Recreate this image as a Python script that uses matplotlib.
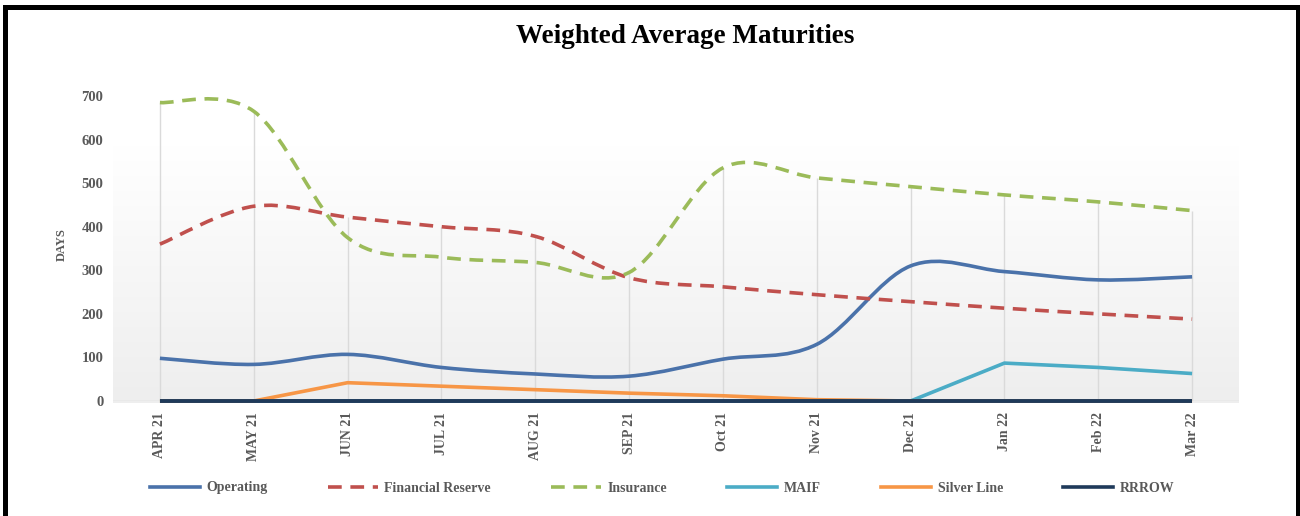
import numpy as np
import matplotlib

matplotlib.use("Agg")
import matplotlib.pyplot as plt
from matplotlib.path import Path
from matplotlib.patches import PathPatch
from matplotlib.lines import Line2D
from matplotlib.colors import LinearSegmentedColormap

months = ["APR 21", "MAY 21", "JUN 21", "JUL 21", "AUG 21", "SEP 21",
          "Oct 21", "Nov 21", "Dec 21", "Jan 22", "Feb 22", "Mar 22"]
operating = [98, 84, 107, 77, 62, 57, 96, 130, 310, 297, 278, 285]
financial_reserve = [360, 447, 422, 400, 378, 283, 262, 244, 228, 213, 200, 188]
insurance = [685, 665, 375, 330, 318, 295, 535, 512, 492, 473, 457, 437]
maif = [0, 0, 0, 0, 0, 0, 0, 0, 0, 87, 77, 63]
silver_line = [0, 0, 42, 34, 26, 18, 12, 3, 0, 0, 0, 0]
rrrow = [0, 0, 0, 0, 0, 0, 0, 0, 0, 0, 0, 0]

TXT = "#595959"
SERIF = ["Liberation Serif", "DejaVu Serif"]
W, H = 1300, 516


def smooth_path(x, y):
    # Excel-like smoothed line: cubic Bezier segments with 1/6 tangents
    pts = np.column_stack([np.asarray(x, float), np.asarray(y, float)])
    n = len(pts)
    verts = [pts[0]]
    codes = [Path.MOVETO]
    for i in range(n - 1):
        p_prev = pts[max(i - 1, 0)]
        p_next2 = pts[min(i + 2, n - 1)]
        c1 = pts[i] + (pts[i + 1] - p_prev) / 6
        c2 = pts[i + 1] - (p_next2 - pts[i]) / 6
        verts += [c1, c2, pts[i + 1]]
        codes += [Path.CURVE4] * 3
    return Path(verts, codes)


fig = plt.figure(figsize=(W / 100, H / 100), dpi=100)
px = 0.4357  # pixels per day
ax = fig.add_axes([113 / W, (H - 401) / H, (1239 - 113) / W, 750 * px / H])
x = np.arange(len(months))
ax.set_xlim(-0.5, len(months) - 0.5)
ax.set_ylim(0, 750)

# soft gradient background
grad = np.linspace(0, 1, 256).reshape(-1, 1)
cmap = LinearSegmentedColormap.from_list("bg", ["#eeeeee", "#ffffff"])
ax.imshow(grad, cmap=cmap, origin="lower", aspect="auto",
          extent=(-0.5, len(months) - 0.5, -4, 587), zorder=0, clip_on=False)

# drop lines up to the highest series
tops = np.max([operating, financial_reserve, insurance, maif, silver_line], axis=0)
ax.vlines(x, 0, tops, color="#dadada", lw=1, zorder=1)
ax.axhline(0, color="#d9d9d9", lw=1, zorder=1)

c_op, c_fr, c_ins = "#4a72aa", "#c0504d", "#9bbb59"
c_maif, c_sil, c_rr = "#4bacc6", "#f79646", "#1f3a5a"
dash = (0, (3.8, 2.4))
lw = 2.6

for vals, col, ls in [(operating, c_op, "-"),
                      (financial_reserve, c_fr, dash),
                      (insurance, c_ins, dash)]:
    ax.add_patch(PathPatch(smooth_path(x, vals), fill=False, edgecolor=col,
                           lw=lw, linestyle=ls, zorder=3, clip_on=False))
ax.plot(x, maif, color=c_maif, lw=lw, zorder=4, clip_on=False, solid_capstyle="butt")
ax.plot(x, silver_line, color=c_sil, lw=lw, zorder=4, clip_on=False, solid_capstyle="butt")
ax.plot(x, rrrow, color=c_rr, lw=2.8, zorder=5, solid_capstyle="butt", clip_on=False)

for s in ax.spines.values():
    s.set_visible(False)
ax.set_yticks(range(0, 701, 100))
ax.set_xticks(x)
ax.set_xticklabels(months, rotation=90, fontsize=10, fontweight="bold",
                   color=TXT, family=SERIF)
for lab in ax.get_yticklabels():
    lab.set_fontfamily(SERIF)
    lab.set_fontweight("bold")
    lab.set_fontsize(10.5)
    lab.set_color(TXT)
ax.tick_params(length=0)
ax.tick_params(axis="y", pad=7)
ax.tick_params(axis="x", pad=8)
ax.set_ylabel("DAYS", fontsize=9, fontweight="bold", color=TXT, family=SERIF)
ax.yaxis.set_label_coords(-0.040, 0.48)

handles = [Line2D([], [], color=c_op, lw=lw),
           Line2D([], [], color=c_fr, lw=lw, linestyle=dash),
           Line2D([], [], color=c_ins, lw=lw, linestyle=dash),
           Line2D([], [], color=c_maif, lw=lw),
           Line2D([], [], color=c_sil, lw=lw),
           Line2D([], [], color=c_rr, lw=lw)]
labels = ["Operating", "Financial Reserve", "Insurance", "MAIF", "Silver Line", "RRROW"]
leg = fig.legend(handles, labels, loc="center", bbox_to_anchor=(662 / W, 1 - 488 / H),
                 ncol=6, frameon=False, handlelength=3.6, handletextpad=0.5,
                 columnspacing=4.3, prop={"family": SERIF, "size": 10, "weight": "bold"})
for t in leg.get_texts():
    t.set_color(TXT)

fig.text(685 / W, 1 - 43 / H, "Weighted Average Maturities", ha="center", va="baseline",
         fontsize=19.5, fontweight="bold", family=SERIF, color="black")

# black frame (left, top, right)
frame = Line2D([5 / W, 5 / W, 1298 / W, 1298 / W],
               [-0.05, 1 - 6.5 / H, 1 - 6.5 / H, -0.05],
               transform=fig.transFigure, color="black", lw=3.6,
               solid_joinstyle="miter")
fig.add_artist(frame)

fig.savefig("out.png", dpi=100)
